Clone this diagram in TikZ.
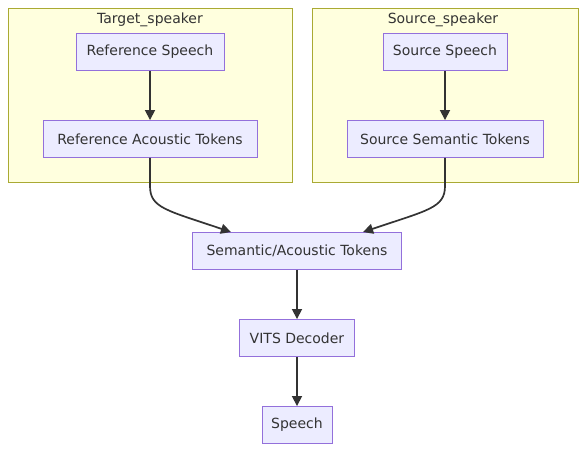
\documentclass[tikz,border=0pt]{standalone}
\usepackage{fontspec}
\setmainfont{DejaVu Sans}
\usepackage{xcolor}
\usepackage{tikz}
\usetikzlibrary{arrows.meta}

\definecolor{clusterfill}{HTML}{FFFFDE}
\definecolor{clusterline}{HTML}{AAAA33}
\definecolor{nodefill}{HTML}{ECECFF}
\definecolor{nodeline}{HTML}{9370DB}
\definecolor{inkgrey}{HTML}{333333}

\begin{document}
\begin{tikzpicture}[
    x=1pt, y=-1pt,
    >={Triangle[length=10pt,width=10pt]},
    every node/.style={font=\fontsize{14}{16}\selectfont, text=inkgrey},
    cluster/.style={draw=clusterline, fill=clusterfill, line width=0.9pt},
    box/.style={draw=nodeline, fill=nodefill, line width=0.9pt,
      minimum height=37pt, inner sep=0pt},
    flow/.style={->, draw=inkgrey, line width=1.7pt}
  ]
    \useasboundingbox (0,0) rectangle (587,451);
    % subgraphs
    \draw[cluster] (8,8) rectangle (292,182);
    \draw[cluster] (312,8) rectangle (578,182);
    \node (target) at (150,20) {Target\_speaker};
    \node (source) at (443,20) {Source\_speaker};

    \node[box, minimum width=148pt] (refspeech) at (150,52) {Reference Speech};
    \node[box, minimum width=214pt] (refacoustic) at (150,139) {Reference Acoustic Tokens};
    \node[box, minimum width=124pt] (srcspeech) at (445,52) {Source Speech};
    \node[box, minimum width=196pt] (srcsemantic) at (445,139) {Source Semantic Tokens};
    \node[box, minimum width=209pt] (tokens) at (297,251) {Semantic/Acoustic Tokens};
    \node[box, minimum width=115pt] (decoder) at (297,338) {VITS Decoder};
    \node[box, minimum width=70pt] (speech) at (297,425) {Speech};

    \draw[flow] (refspeech) -- (refacoustic);
    \draw[flow] (srcspeech) -- (srcsemantic);
    \draw[flow] (refacoustic.south) -- ++(0,28)
      .. controls +(0,22) and +(-65,-22) .. (tokens.164);
    \draw[flow] (srcsemantic.south) -- ++(0,28)
      .. controls +(0,22) and +(65,-22) .. (tokens.16);
    \draw[flow] (tokens) -- (decoder);
    \draw[flow] (decoder) -- (speech);
  \end{tikzpicture}
\end{document}
